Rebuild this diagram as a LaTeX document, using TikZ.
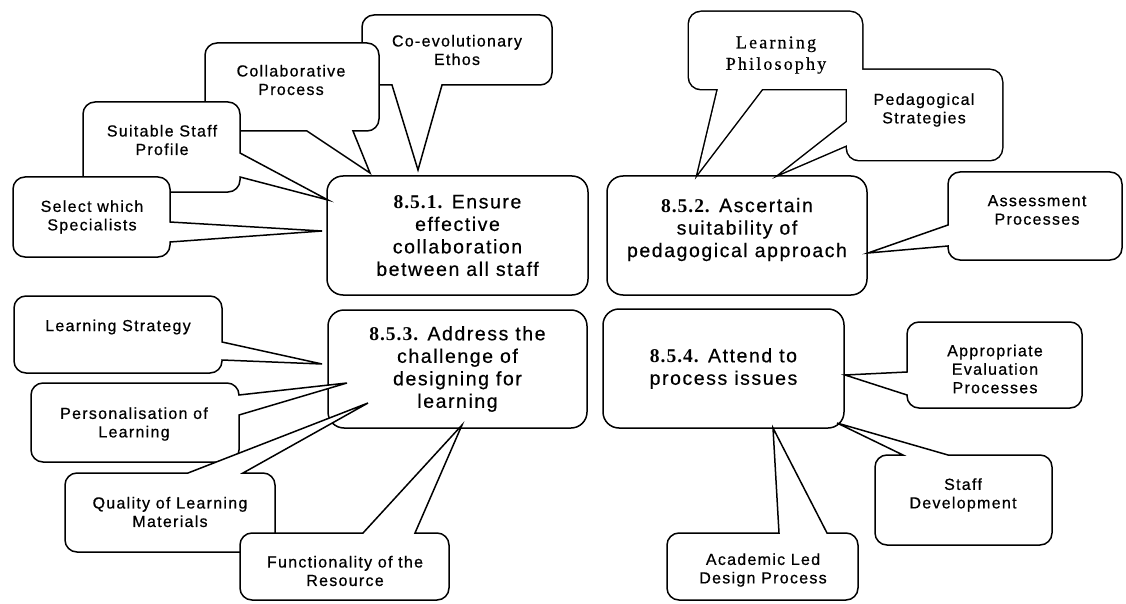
\documentclass[tikz,border=0pt]{standalone}
\usepackage{fontspec}
\newfontfamily\calloutfont[LetterSpace=8,FakeBold=0.6]{Liberation Sans}
\newfontfamily\boxfont[LetterSpace=8,FakeBold=0.5]{Liberation Sans}
\newfontfamily\numfont[LetterSpace=5]{Liberation Serif}
\newfontfamily\philfont[LetterSpace=12,FakeBold=0.4]{Liberation Serif}

\tikzset{
  outline/.style={draw=black, fill=white, line width=1.5pt},
  mainbox/.style={draw, line width=1.5pt, rounded corners=16pt, inner sep=0pt,
    align=center, font=\boxfont\fontsize{19.5}{22.5}\selectfont},
  calltext/.style={align=center, inner sep=0pt,
    font=\calloutfont\fontsize{16}{18.5}\selectfont},
}

\begin{document}
\begin{tikzpicture}[x=1pt, y=-1pt]
\useasboundingbox (0,0) rectangle (1126,604);

% ---- the four main objectives ----
\node[mainbox, minimum width=261pt, minimum height=119pt] (collab) at (457.5,235.5)
  {{\numfont\bfseries 8.5.1.} Ensure\\effective\\collaboration\\between all staff};
\node[mainbox, minimum width=260pt, minimum height=119pt, text depth=16pt] (pedag) at (737,235.5)
  {{\numfont\bfseries 8.5.2.} Ascertain\\suitability of\\pedagogical approach};
\node[mainbox, minimum width=259pt, minimum height=118pt] (design) at (457.5,369)
  {{\numfont\bfseries 8.5.3.} Address the\\challenge of\\designing for\\learning};
\node[mainbox, minimum width=241pt, minimum height=119pt] (procs) at (723.5,368.5)
  {{\numfont\bfseries 8.5.4.} Attend to\\process issues};

% ---- callouts around 8.5.1 (later ones lie on top) ----
\filldraw[outline] (442,85) [rounded corners=12pt] -- (552,85) -- (552,15) -- (362,15)
  -- (362,85) [sharp corners] -- (392,85) -- (418,170) -- cycle;
\filldraw[outline] (353,131) [rounded corners=12pt] -- (379,131) -- (379,43) -- (205,43)
  -- (205,131) [sharp corners] -- (307,131) -- (370,173) -- cycle;
\filldraw[outline] (240,177) [rounded corners=12pt] -- (240,192) -- (83,192) -- (83,102)
  -- (240,102) [sharp corners] -- (240,153) -- (328,200) -- cycle;
\filldraw[outline] (170,242) [rounded corners=12pt] -- (170,257) -- (13,257) -- (13,177)
  -- (170,177) [sharp corners] -- (170,222) -- (322,231) -- cycle;

% ---- callouts around 8.5.2: the two upper ones share one merged outline ----
\def\pedcallout{(847,122) [rounded corners=12pt] -- (847,70) -- (1002,70) -- (1002,160)
  -- (847,160) [sharp corners] -- (847,145) -- (782,173) -- cycle}
\def\philcallout{(762,89) [rounded corners=12pt] -- (862,89) -- (862,12) -- (689,12)
  -- (689,89) [sharp corners] -- (718,89) -- (698,173) -- cycle}
\draw[line width=3pt] \pedcallout;
\draw[line width=3pt] \philcallout;
\fill[white] \pedcallout;
\fill[white] \philcallout;
\filldraw[outline] (948,225) [rounded corners=12pt] -- (948,172) -- (1122,172) -- (1122,260)
  -- (948,260) [sharp corners] -- (948,246) -- (868,253) -- cycle;

% ---- callouts around 8.5.3 ----
\filldraw[outline] (222,360) [rounded corners=12pt] -- (222,373) -- (14,373) -- (14,296)
  -- (222,296) [sharp corners] -- (222,342) -- (322,364) -- cycle;
\filldraw[outline] (239,415) [rounded corners=12pt] -- (239,462) -- (31,462) -- (31,383)
  -- (239,383) [sharp corners] -- (239,395) -- (347,383) -- cycle;
\filldraw[outline] (243,473) [rounded corners=12pt] -- (275,473) -- (275,552) -- (65,552)
  -- (65,473) [sharp corners] -- (188,473) -- (368,403) -- cycle;
\filldraw[outline] (415,533) [rounded corners=12pt] -- (449,533) -- (449,600) -- (240,600)
  -- (240,533) [sharp corners] -- (363,533) -- (462,425) -- cycle;

% ---- callouts around 8.5.4 ----
\filldraw[outline] (907,372) [rounded corners=12pt] -- (907,322) -- (1082,322) -- (1082,408)
  -- (907,408) [sharp corners] -- (907,395) -- (845,375) -- cycle;
\filldraw[outline] (948,455) [rounded corners=12pt] -- (1052,455) -- (1052,545) -- (875,545)
  -- (875,455) [sharp corners] -- (903,455) -- (837,423) -- cycle;
\filldraw[outline] (827,533) [rounded corners=12pt] -- (858,533) -- (858,600) -- (667,600)
  -- (667,533) [sharp corners] -- (779,533) -- (773,428) -- cycle;

% ---- callout texts ----
\node[calltext] (ethos) at (457,50) {Co-evolutionary\\Ethos};
\node[calltext] (process) at (291,80) {Collaborative\\Process};
\node[calltext] (profile) at (162,140) {Suitable Staff\\Profile};
\node[calltext] (specialists) at (92,217) {Select which\\Specialists};
\node[calltext, font=\philfont\fontsize{18}{21.5}\selectfont] (philosophy) at (776,55)
  {Learning\\Philosophy};
\node[calltext] (strategies) at (924,110) {Pedagogical\\Strategies};
\node[calltext] (assessment) at (1037,210) {Assessment\\Processes};
\node[calltext] (lstrategy) at (118,327) {Learning Strategy};
\node[calltext] (personal) at (134,424) {Personalisation of\\Learning};
\node[calltext] (quality) at (170,512) {Quality of Learning\\Materials};
\node[calltext] (function) at (345,571) {Functionality of the\\Resource};
\node[calltext] (evaluation) at (995,369) {Appropriate\\Evaluation\\Processes};
\node[calltext] (staffdev) at (963,495) {Staff\\Development};
\node[calltext] (academic) at (763,570) {Academic Led\\Design Process};
\end{tikzpicture}
\end{document}
